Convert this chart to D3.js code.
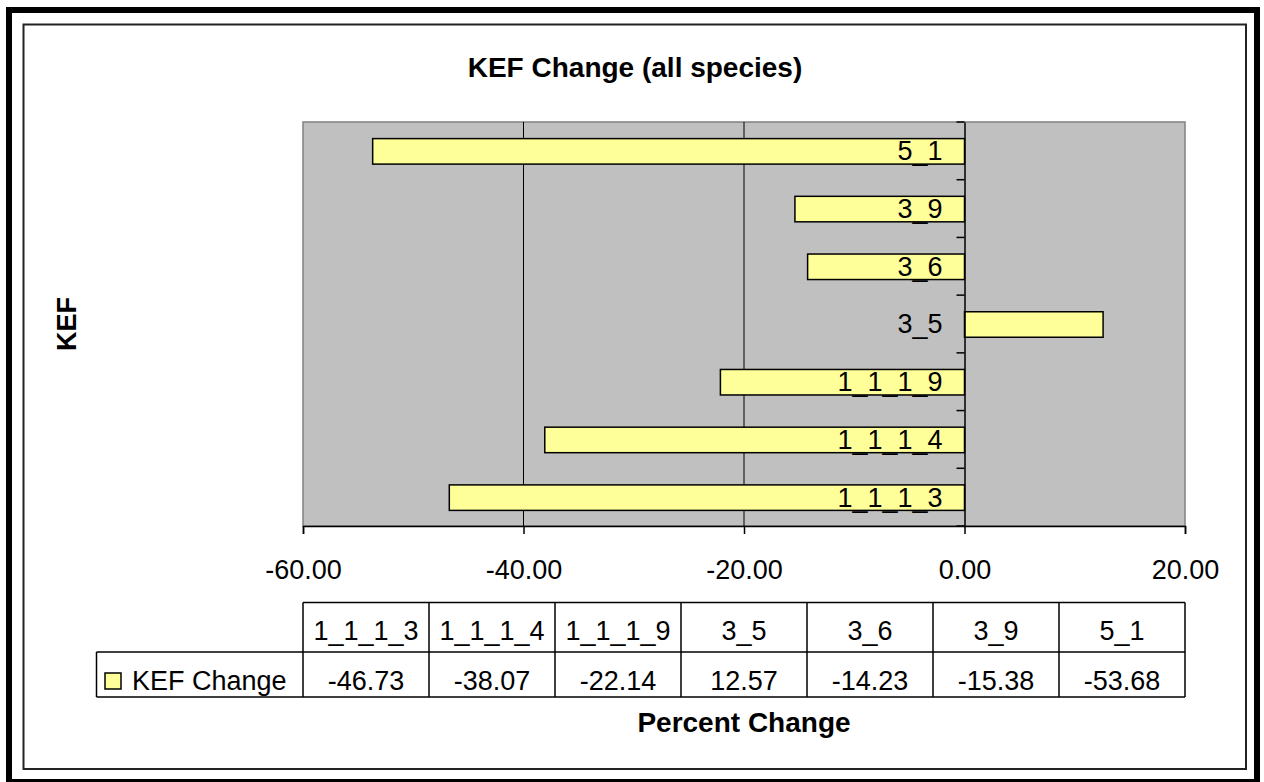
<!DOCTYPE html>
<html>
<head>
<meta charset="utf-8">
<script src="https://cdn.jsdelivr.net/npm/d3@7"></script>
<style>
  html, body { margin: 0; padding: 0; background: #fff; }
  svg { display: block; }
  text { font-family: "Liberation Sans", Arial, sans-serif; fill: #000; }
</style>
</head>
<body>
<script>
// ---- data ----
const categories = ["1_1_1_3", "1_1_1_4", "1_1_1_9", "3_5", "3_6", "3_9", "5_1"];
const kefChange = [-46.73, -38.07, -22.14, 12.57, -14.23, -15.38, -53.68];
const xTicks = [-60, -40, -20, 0, 20];
const seriesName = "KEF Change";
const chartTitle = "KEF Change (all species)";
const xTitle = "Percent Change";
const yTitle = "KEF";

const W = 1264, H = 782;
const plot = { left: 303, right: 1185, top: 122, bottom: 526 };
const fs = 27;
const fmt = d => d3.format(".2f")(d).replace("\u2212", "-");

const svg = d3.select("body").append("svg").attr("width", W).attr("height", H);

// frames
svg.append("rect").attr("x", 9).attr("y", 10).attr("width", 1248).attr("height", 772)
  .attr("fill", "none").attr("stroke", "#000").attr("stroke-width", 6);
svg.append("rect").attr("x", 23.5).attr("y", 24.5).attr("width", 1222.5).attr("height", 744.5)
  .attr("fill", "none").attr("stroke", "#222").attr("stroke-width", 2);

const x = d3.scaleLinear().domain([-60, 20]).range([plot.left, plot.right]);
const yb = d3.scaleBand().domain(categories.slice().reverse()).range([plot.top, plot.bottom]);

// plot background
svg.append("rect").attr("x", plot.left).attr("y", plot.top)
  .attr("width", plot.right - plot.left).attr("height", plot.bottom - plot.top)
  .attr("fill", "#C0C0C0").attr("stroke", "#808080").attr("stroke-width", 1.5);

// gridlines
svg.append("g").selectAll("line").data(xTicks.filter(d => d > -60 && d < 0)).join("line")
  .attr("x1", d => x(d)).attr("x2", d => x(d))
  .attr("y1", plot.top).attr("y2", plot.bottom)
  .attr("stroke", "#000").attr("stroke-width", 1);

// bars
const data = categories.map((c, i) => ({ c, v: kefChange[i] }));
svg.append("g").selectAll("rect").data(data).join("rect")
  .attr("x", d => x(Math.min(0, d.v)))
  .attr("width", d => Math.abs(x(d.v) - x(0)))
  .attr("y", d => yb(d.c) + (yb.bandwidth() - 25.5) / 2 + 0.5)
  .attr("height", 25.5)
  .attr("fill", "#FFFF99").attr("stroke", "#000").attr("stroke-width", 1.5);

// x axis (bottom)
const xAxis = d3.axisBottom(x).tickValues(xTicks).tickFormat(fmt)
  .tickSize(8).tickPadding(26);
const gx = svg.append("g").attr("transform", `translate(0,${plot.bottom})`).call(xAxis);
gx.select(".domain").attr("stroke", "#000").attr("stroke-width", 1.5);
gx.selectAll(".tick line").attr("stroke", "#000").attr("stroke-width", 1.5);
gx.selectAll(".tick text").attr("font-size", fs).attr("font-family", "Liberation Sans, Arial, sans-serif")
  .attr("fill", "#000");

// category axis at x = 0
const yAxis = d3.axisLeft(yb).tickSize(0).tickPadding(22);
const gy = svg.append("g").attr("transform", `translate(${x(0)},0)`).call(yAxis);
gy.select(".domain").attr("stroke", "#000").attr("stroke-width", 1.5);
gy.selectAll(".tick text").attr("font-size", fs).attr("font-family", "Liberation Sans, Arial, sans-serif")
  .attr("fill", "#000").attr("dy", "0.35em");
// boundary tick marks
const bounds = categories.map((c) => yb(c)).concat([plot.bottom]);
gy.append("g").selectAll("line").data(bounds).join("line")
  .attr("x1", -8).attr("x2", 0).attr("y1", d => d).attr("y2", d => d)
  .attr("stroke", "#000").attr("stroke-width", 1.5);

// title
svg.append("text").attr("x", 635).attr("y", 77).attr("text-anchor", "middle")
  .attr("font-size", 28).attr("font-weight", "bold").text(chartTitle);

// y title
svg.append("text").attr("transform", `translate(76,${(plot.top + plot.bottom) / 2}) rotate(-90)`)
  .attr("text-anchor", "middle").attr("font-size", fs).attr("font-weight", "bold").text(yTitle);

// x title
svg.append("text").attr("x", (plot.left + plot.right) / 2).attr("y", 732).attr("text-anchor", "middle")
  .attr("font-size", 28).attr("font-weight", "bold").text(xTitle);

// data table
const colW = (plot.right - plot.left) / categories.length;
const t1 = 602.5, t2 = 652, t3 = 697, legLeft = 96.5;
const tg = svg.append("g").attr("stroke", "#000").attr("stroke-width", 1.5);
tg.append("line").attr("x1", plot.left).attr("x2", plot.right).attr("y1", t1).attr("y2", t1);
tg.append("line").attr("x1", legLeft).attr("x2", plot.right).attr("y1", t2).attr("y2", t2);
tg.append("line").attr("x1", legLeft).attr("x2", plot.right).attr("y1", t3).attr("y2", t3);
tg.append("line").attr("x1", legLeft).attr("x2", legLeft).attr("y1", t2).attr("y2", t3);
tg.selectAll(".v").data(d3.range(categories.length + 1)).join("line")
  .attr("x1", i => plot.left + i * colW).attr("x2", i => plot.left + i * colW)
  .attr("y1", t1).attr("y2", t3);

svg.append("g").selectAll("text").data(categories).join("text")
  .attr("x", (d, i) => plot.left + (i + 0.5) * colW).attr("y", 640)
  .attr("text-anchor", "middle").attr("font-size", fs).text(d => d);
svg.append("g").selectAll("text").data(kefChange).join("text")
  .attr("x", (d, i) => plot.left + (i + 0.5) * colW).attr("y", 690)
  .attr("text-anchor", "middle").attr("font-size", fs).text(d => fmt(d));

// legend key
svg.append("rect").attr("x", 105).attr("y", 673).attr("width", 16).attr("height", 16)
  .attr("fill", "#FFFF99").attr("stroke", "#000").attr("stroke-width", 1.5);
svg.append("text").attr("x", 132).attr("y", 690).attr("font-size", fs).text(seriesName);
</script>
</body>
</html>
